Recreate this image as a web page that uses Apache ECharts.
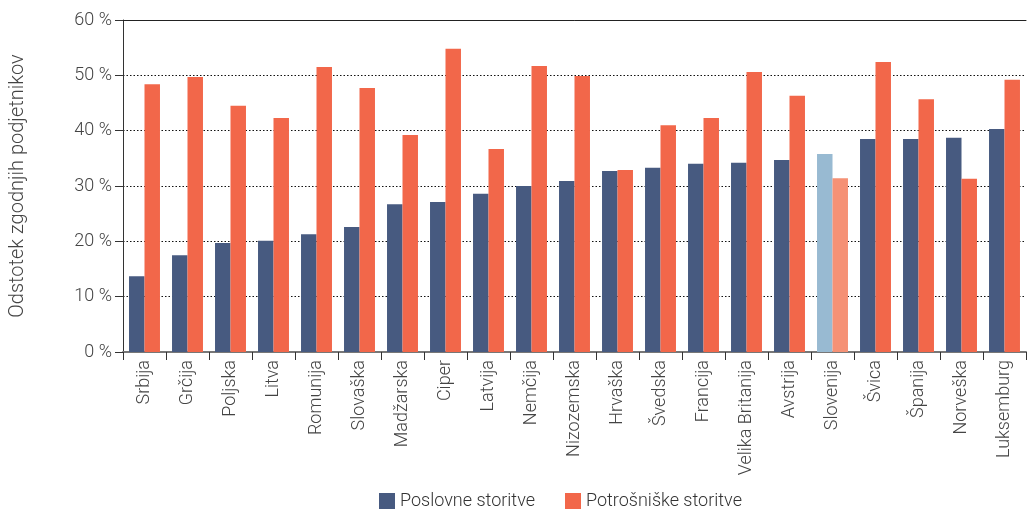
<!DOCTYPE html>
<html><head><meta charset="utf-8">
<script src="https://cdn.jsdelivr.net/npm/echarts@6/dist/echarts.min.js"></script>
<style>html,body{margin:0;padding:0;background:#fff}#c{width:1027px;height:509px}</style>
</head><body><div id="c"></div>
<script>
const categories = ['Srbija','Grčija','Poljska','Litva','Romunija','Slovaška','Madžarska','Ciper','Latvija','Nemčija','Nizozemska','Hrvaška','Švedska','Francija','Velika Britanija','Avstrija','Slovenija','Švica','Španija','Norveška','Luksemburg'];
const poslovne = [13.7,17.5,19.7,20.1,21.3,22.6,26.7,27.1,28.6,30.0,30.9,32.7,33.3,34.0,34.2,34.7,35.8,38.5,38.5,38.7,40.3];
const potrosniske = [48.4,49.7,44.5,42.3,51.5,47.7,39.2,54.8,36.7,51.7,49.9,32.9,41.0,42.3,50.6,46.3,31.4,52.4,45.7,31.3,49.2];
const seriesNames = ['Poslovne storitve','Potrošniške storitve'];
const highlight = 'Slovenija';

const FONT = 'Roboto';
const blue = '#475a80', orange = '#f2674a', blueHi = '#98bad2', orangeHi = '#f59175';
const chart = echarts.init(document.getElementById('c'));
chart.setOption({
  animation:false,
  textStyle:{fontFamily:FONT},
  grid:{left:123,right:1,top:20,bottom:157},
  legend:{top:487,left:374,itemWidth:16,itemHeight:16,itemGap:30,icon:'rect',
    textStyle:{fontFamily:FONT,fontWeight:300,fontSize:18,color:'#333'},data:seriesNames},
  xAxis:[{type:'category',data:categories,
    axisLine:{lineStyle:{color:'#777',width:2}},
    axisTick:{show:true,length:8,lineStyle:{color:'#333'}},
    axisLabel:{rotate:90,fontFamily:FONT,fontWeight:300,fontSize:18,color:'#444',margin:8,interval:0}},
    {type:'category',position:'top',data:categories,axisLine:{lineStyle:{color:'#222',width:1}},axisTick:{show:false},axisLabel:{show:false}}],
  yAxis:{type:'value',min:0,max:60,interval:10,
    name:'Odstotek zgodnjih podjetnikov',nameLocation:'middle',nameGap:95,nameRotate:90,
    nameTextStyle:{fontFamily:FONT,fontWeight:300,fontSize:20,color:'#444'},
    axisLine:{show:true,lineStyle:{color:'#333'}},
    axisTick:{show:true,length:8,lineStyle:{color:'#333'}},
    axisLabel:{formatter:'{value} %',fontFamily:FONT,fontWeight:300,fontSize:18,color:'#444',margin:11},
    splitLine:{show:true,lineStyle:{type:[1.5,2],color:'#111',width:1.2}}},
  series:[
    {name:seriesNames[0],type:'bar',barGap:'0%',barCategoryGap:'28%',itemStyle:{color:blue},
      data:poslovne.map((v,i)=>categories[i]===highlight?{value:v,itemStyle:{color:blueHi}}:v)},
    {name:seriesNames[1],type:'bar',itemStyle:{color:orange},
      data:potrosniske.map((v,i)=>categories[i]===highlight?{value:v,itemStyle:{color:orangeHi}}:v)}
  ]
});
</script></body></html>
